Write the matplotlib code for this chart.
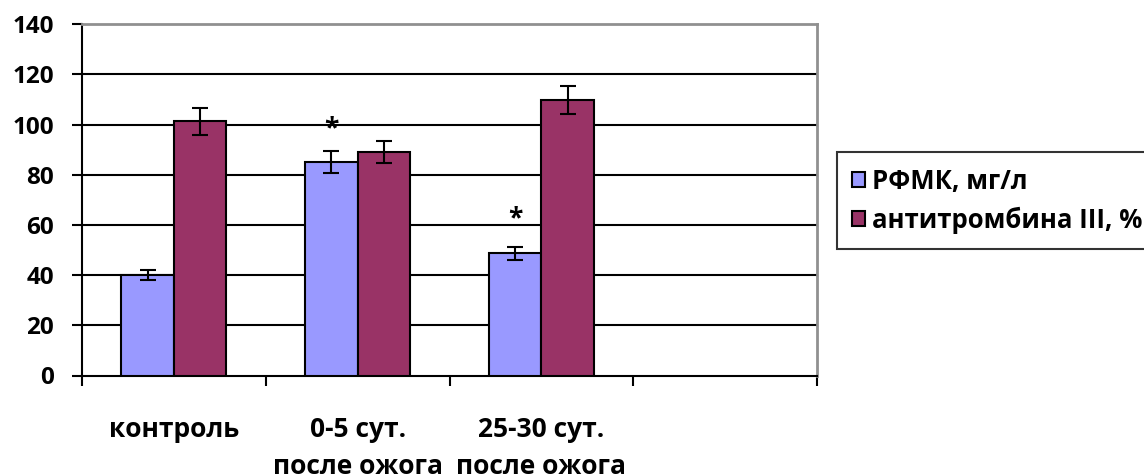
import numpy as np
import matplotlib
matplotlib.use("Agg")
import matplotlib.pyplot as plt

# categories (4th slot is empty in the original chart)
categories = ["контроль", "0-5 сут.\nпосле ожога", "25-30 сут.\nпосле ожога", ""]
series_names = ["РФМК, мг/л", "антитромбина III, %"]
rfmk = [40, 85, 48.8]
rfmk_err = [2.0, 4.3, 2.6]
at3 = [101.3, 89.1, 109.7]
at3_err = [5.3, 4.4, 5.6]
# significance marks above the РФМК bars
stars = ["", "*", "*"]
star_y = [0, 95.4, 59.6]

y_ticks = [0, 20, 40, 60, 80, 100, 120, 140]

plt.rcParams["font.family"] = ["Open Sans", "DejaVu Sans"]
plt.rcParams["font.weight"] = "bold"

fig = plt.figure(figsize=(11.44, 4.74), dpi=100)
ax = fig.add_axes([82 / 1144, 1 - 375.5 / 474, (817 - 82) / 1144, (375.5 - 24.3) / 474])

n = len(rfmk)
centers = np.arange(n) + 0.5
w = 1 / 3.5  # excel gap width 150%

ax.bar(centers - w / 2, rfmk, w, color="#9999FF", edgecolor="black", linewidth=1.5,
       label=series_names[0], zorder=3)
ax.bar(centers + w / 2, at3, w, color="#993366", edgecolor="black", linewidth=1.5,
       label=series_names[1], zorder=3)
ax.errorbar(centers - w / 2, rfmk, yerr=rfmk_err, fmt="none", ecolor="black",
            elinewidth=1.5, capsize=5.5, capthick=1.5, zorder=4)
ax.errorbar(centers + w / 2, at3, yerr=at3_err, fmt="none", ecolor="black",
            elinewidth=1.5, capsize=5.5, capthick=1.5, zorder=4)

for i in range(n):
    if stars[i]:
        ax.text(centers[i] - w / 2, star_y[i], stars[i], ha="center", va="baseline",
                fontsize=19, fontweight="bold")

ax.set_xlim(0, len(categories))
ax.set_ylim(0, 140)
ax.set_yticks(y_ticks)
ax.set_yticklabels([str(v) for v in y_ticks], fontsize=17.5, fontweight="bold")
ax.set_xticks(np.arange(len(categories) + 1))
ax.set_xticklabels([])
ax.set_xticks(np.arange(len(categories)) + 0.5, minor=True)
ax.set_xticklabels(categories, minor=True, fontsize=19, fontweight="bold", linespacing=1.5)
ax.tick_params(axis="x", which="minor", length=0, pad=29)
ax.tick_params(axis="x", which="major", direction="out", length=7, width=1.5)
ax.tick_params(axis="y", direction="out", length=7, width=1.5, pad=13)

for v in y_ticks[1:-1]:
    ax.axhline(v, color="black", linewidth=1.5, zorder=1)

ax.spines["left"].set_linewidth(1.5)
ax.spines["bottom"].set_linewidth(1.5)
ax.spines["top"].set_color("#909090")
ax.spines["right"].set_color("#909090")
ax.spines["top"].set_linewidth(2)
ax.spines["right"].set_linewidth(2)

leg = fig.legend(loc="upper left", bbox_to_anchor=(836.5 / 1144, 1 - 152.5 / 474),
                 fontsize=18.5, frameon=True, fancybox=False, edgecolor="black",
                 handlelength=0.5, handleheight=0.5, handletextpad=0.3,
                 borderpad=0.6, labelspacing=0.45, borderaxespad=0)
leg.get_frame().set_linewidth(1.5)
for t in leg.get_texts():
    t.set_fontweight("bold")

fig.savefig("out.png", dpi=100)
